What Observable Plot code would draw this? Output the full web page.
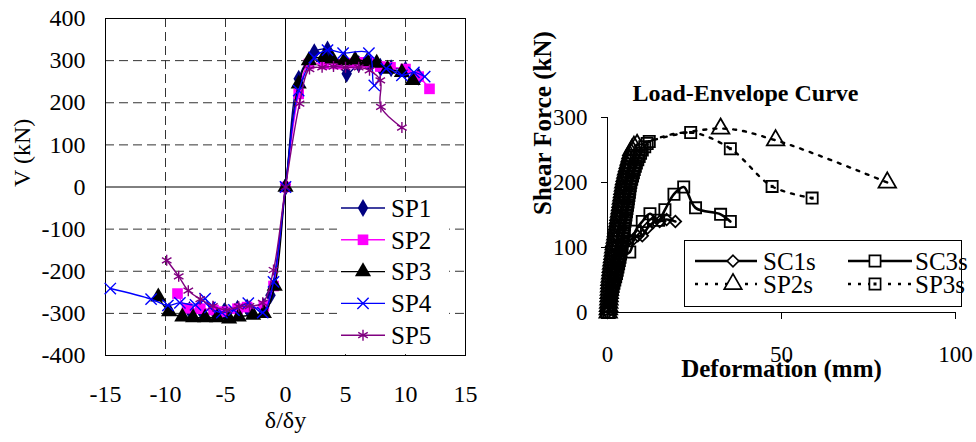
<!DOCTYPE html>
<html><head><meta charset="utf-8">
<script src="https://cdn.jsdelivr.net/npm/d3@7"></script>
<script src="https://cdn.jsdelivr.net/npm/@observablehq/plot@0.6"></script>
<style>
body{margin:0;background:#fff;}
#wrap{position:relative;width:976px;height:442px;overflow:hidden;background:#fff;font-family:"Liberation Serif";}
#wrap > svg{position:absolute;top:0;}
</style></head><body><div id="wrap"></div>
<script>
// ---------- Left chart data: V (kN) vs δ/δy ----------
const spNames = ["SP1","SP2","SP3","SP4","SP5"];
const spColors = ["#000080","#ff00ff","#000000","#0000ff","#800080"];
const spSymbols = ["diamond","square","triangle","times","asterisk"];
const sp1 = [[-8,-292],[-7.1,-290],[-6,-292],[-5.1,-295],[-4,-289],[-3.2,-286],[-1.8,-284],[-1.25,-257],[0,0],[1.1,257],[2.4,320],[3.5,326],[5.1,269],[6.1,292],[7,292],[7.9,285],[8.8,282],[10,278],[11.1,262]];
const sp2 = [[-9,-253],[-8.2,-288],[-7.1,-289],[-6,-292],[-5.1,-296],[-4,-289],[-3.2,-285],[-1.8,-283],[-1.0,-235],[0,0],[1.1,221],[1.95,292],[3.2,292],[4.3,292],[5.4,294],[6.2,296],[6.95,296],[7.9,286],[8.75,284],[10,280],[11.1,262],[12,233]];
const sp3 = [[-10.6,-261],[-9.7,-296],[-8.6,-308],[-7.7,-310],[-6.7,-310],[-5.7,-310],[-4.7,-313],[-3.9,-308],[-2.7,-304],[-1.8,-300],[-0.9,-235],[0,0],[1.1,245],[1.95,300],[3.2,308],[3.9,304],[4.9,300],[5.8,302],[6.8,298],[7.6,294],[8.5,280],[9.7,272],[10.6,253]];
const sp4 = [[-14.6,-241],[-11.2,-266],[-9.8,-281],[-8.8,-275],[-7.5,-280],[-6.7,-265],[-6.3,-286],[-5.3,-298],[-4.3,-292],[-3.1,-276],[-1.9,-298],[-1.0,-225],[0,0],[1.1,229],[2.4,307],[3.5,325],[4.8,318],[6.95,318],[7.4,241],[8.4,281],[9.7,265],[10.7,272],[11.6,262]];
const sp5 = [[-9.9,-174],[-8.9,-212],[-8.1,-246],[-7.1,-266],[-6.05,-283],[-4.9,-292],[-3.9,-284],[-3.0,-283],[-1.9,-275],[-1.0,-197],[0,0],[1.17,198],[2.0,280],[3.05,284],[4.0,286],[5.0,284],[6.1,284],[7.0,277],[7.9,253],[7.95,190],[9.7,141]];
const spData = [sp1, sp2, sp3, sp4, sp5];
const leftXTicks = [-15,-10,-5,0,5,10,15];
const leftYTicks = [-400,-300,-200,-100,0,100,200,300,400];

// ---------- Right chart data: Shear Force (kN) vs Deformation (mm) ----------
const envNames = ["SC1s","SC3s","SP2s","SP3s"];
const sc1s = [[0,0],[0.6,18],[1.2,36],[1.8,52],[2.4,66],[3,80],[3.6,92],[4.2,102],[5,108],[6.2,112],[7.5,113],[8.7,118],[10,118],[11.5,130],[13,138],[15,140],[17,143],[19.5,140]];
const sc3s = [[0,0],[0.6,18],[1.1,34],[1.6,48],[2.1,60],[2.6,70],[3.0,78],[3.4,86],[6.4,93],[8,125],[10,140],[12.2,152],[14.7,142],[16.5,158],[19.1,182],[21.9,193],[25.3,161],[32.5,151],[35.3,140]];
const sp2s = [[0.2,0],[0.25,5],[0.3,10],[0.35,15],[0.4,20],[0.45,25],[0.5,30],[0.55,35],[0.6,40],[0.65,45],[0.7,50],[0.8,55],[0.9,60],[1.0,65],[1.1,70],[1.2,75],[1.3,80],[1.45,85],[1.6,90],[1.7,95],[1.8,100],[1.95,105],[2.1,110],[2.25,115],[2.4,120],[2.55,125],[2.7,130],[2.85,135],[3.0,140],[3.15,145],[3.3,150],[3.45,155],[3.6,160],[3.75,165],[3.9,170],[4.0,175],[4.15,180],[4.3,185],[4.45,190],[4.6,195],[4.7,200],[4.9,205],[5.1,210],[5.3,215],[5.5,220],[5.75,225],[6.0,230],[6.25,235],[6.5,240],[6.75,245],[7.0,250],[7.6,255],[8.5,258],[32.5,283],[48.3,265],[80.4,200]];
const sp3s = [[0.5,0],[0.6,5],[0.7,10],[0.8,15],[0.9,20],[1.05,25],[1.2,30],[1.4,35],[1.6,40],[1.85,45],[2.1,50],[2.35,55],[2.6,60],[2.8,65],[3.0,70],[3.2,75],[3.4,80],[3.6,85],[3.75,90],[3.9,95],[4.1,100],[4.2,105],[4.3,110],[4.4,115],[4.55,120],[4.65,125],[4.75,130],[4.9,135],[5.0,140],[5.15,145],[5.3,150],[5.45,155],[5.6,160],[5.75,165],[5.9,170],[6.0,175],[6.15,180],[6.3,185],[6.4,190],[6.55,195],[6.7,200],[6.95,205],[7.2,210],[7.45,215],[7.7,220],[8.0,225],[8.3,230],[8.7,235],[9.1,240],[9.5,245],[10.0,250],[10.7,255],[11.4,260],[12,263],[23.9,277],[35.3,252],[47.3,194],[58.8,176]];
const rightXTicks = [0,50,100];
const rightYTicks = [0,100,200,300];

const FONT = "Liberation Serif";
const X = d => d[0], Y = d => d[1];

// ---------- Left chart ----------
const dotOpts = (i) => {
  const s = spSymbols[i];
  const strokeOnly = (s === "times" || s === "asterisk");
  return strokeOnly
    ? {x: X, y: Y, symbol: s, r: 5.2, fill: "none", stroke: spColors[i], strokeWidth: 1.4}
    : {x: X, y: Y, symbol: s, r: s === "diamond" ? 5.5 : 6, fill: spColors[i], stroke: "none"};
};
const leftMarks = [
  Plot.ruleX(leftXTicks.filter(d => d !== 0 && Math.abs(d) < 15), {stroke: "#333", strokeDasharray: "9,5"}),
  Plot.ruleY(leftYTicks.filter(d => d !== 0 && Math.abs(d) < 400), {stroke: "#333", strokeDasharray: "9,5"}),
  Plot.ruleX([0], {stroke: "#000"}),
  Plot.ruleY([0], {stroke: "#000"}),
  Plot.frame({stroke: "#000"})
];
spData.forEach((data, i) => {
  leftMarks.push(Plot.line(data, {x: X, y: Y, stroke: spColors[i], strokeWidth: 1.4, curve: "catmull-rom"}));
  leftMarks.push(Plot.dot(data, dotOpts(i)));
});
leftMarks.push(Plot.text(["δ/δy"], {frameAnchor: "bottom", dy: 72, fontSize: 24, fontFamily: FONT}));
leftMarks.push(Plot.text(["V (kN)"], {frameAnchor: "left", dx: -83, rotate: -90, fontSize: 24, fontFamily: FONT}));

const left = Plot.plot({
  width: 480, height: 442,
  marginLeft: 105, marginRight: 15, marginTop: 18, marginBottom: 87,
  style: {fontFamily: FONT, fontSize: "24px", color: "#000", background: "transparent", overflow: "visible"},
  x: {domain: [-15, 15], ticks: leftXTicks, tickFormat: d => String(d), tickSize: 0, tickPadding: 29, label: null},
  y: {domain: [-400, 400], ticks: leftYTicks, tickFormat: d => String(d), tickSize: 0, tickPadding: 20, label: null},
  marks: leftMarks
});
left.style.left = "0px";

// ---------- Right chart ----------
const solid = {stroke: "#000", strokeWidth: 2.6, curve: "catmull-rom"};
const dotted = {stroke: "#000", strokeWidth: 2.4, strokeDasharray: "3,7", curve: "catmull-rom"};
const openMark = {fill: "none", stroke: "#000", strokeWidth: 1.8};
const rightMarks = [
  Plot.ruleX([0], {stroke: "#000"}),
  Plot.ruleY([0], {stroke: "#000"}),
  Plot.line(sp2s, {x: X, y: Y, ...dotted}),
  Plot.dot(sp2s, {x: X, y: Y, symbol: "triangle", r: 6.5, ...openMark}),
  Plot.line(sp3s, {x: X, y: Y, ...dotted}),
  Plot.dot(sp3s, {x: X, y: Y, symbol: "square", r: 6.3, ...openMark}),
  Plot.dot(sp3s, {x: X, y: Y, symbol: "square", r: 1.7, fill: "#000"}),
  Plot.line(sc1s, {x: X, y: Y, ...solid}),
  Plot.dot(sc1s, {x: X, y: Y, symbol: "diamond2", r: 5.2, ...openMark}),
  Plot.line(sc3s, {x: X, y: Y, ...solid}),
  Plot.dot(sc3s, {x: X, y: Y, symbol: "square", r: 6.3, ...openMark}),
  Plot.text(["Load-Envelope Curve"], {frameAnchor: "top", dx: -36, dy: -34, fontSize: 24, fontWeight: "bold", fontFamily: FONT}),
  Plot.text(["Deformation (mm)"], {frameAnchor: "bottom", dy: 64, fontSize: 25, fontWeight: "bold", fontFamily: FONT}),
  Plot.text(["Shear Force (kN)"], {frameAnchor: "left", dx: -65, rotate: -90, fontSize: 25, fontWeight: "bold", fontFamily: FONT})
];
const right = Plot.plot({
  width: 496, height: 442,
  marginLeft: 127, marginRight: 21, marginTop: 117, marginBottom: 130,
  style: {fontFamily: FONT, fontSize: "23px", color: "#000", background: "transparent", overflow: "visible"},
  x: {domain: [0, 100], ticks: rightXTicks, tickSize: 7, tickPadding: 26, label: null},
  y: {domain: [0, 300], ticks: rightYTicks, tickSize: 6, tickPadding: 14, label: null},
  marks: rightMarks
});
right.style.left = "480px";

const wrap = document.getElementById("wrap");
wrap.appendChild(left);
wrap.appendChild(right);

// ---------- Legends (overlay) ----------
const symMap = {diamond: d3.symbolDiamond, square: d3.symbolSquare, triangle: d3.symbolTriangle,
  times: d3.symbolTimes, asterisk: d3.symbolAsterisk, diamond2: d3.symbolDiamond2};
const ov = d3.select(wrap).append("svg")
  .attr("width", 976).attr("height", 442)
  .style("position", "absolute").style("left", "0px").style("top", "0px")
  .style("pointer-events", "none");

// left legend
const lg = ov.append("g");
lg.append("rect").attr("x", 337).attr("y", 192).attr("width", 112).attr("height", 160).attr("fill", "#fff");
spNames.forEach((name, i) => {
  const y = 208 + i * 31.8;
  lg.append("line").attr("x1", 341).attr("x2", 385).attr("y1", y).attr("y2", y)
    .attr("stroke", spColors[i]).attr("stroke-width", 1.4);
  const o = dotOpts(i);
  lg.append("path").attr("transform", `translate(363,${y})`)
    .attr("d", d3.symbol(symMap[spSymbols[i]], Math.PI * o.r * o.r)())
    .attr("fill", o.fill).attr("stroke", o.stroke).attr("stroke-width", o.strokeWidth || 0);
  lg.append("text").attr("x", 391).attr("y", y).attr("dy", "0.35em")
    .attr("font-family", FONT).attr("font-size", 25).text(name);
});

// right legend
const rg = ov.append("g");
rg.append("rect").attr("x", 684.5).attr("y", 240.5).attr("width", 277).attr("height", 66)
  .attr("fill", "#fff").attr("stroke", "#000").attr("stroke-width", 1);
const envStyle = [
  {line: solid, sym: "diamond2", r: 5.2, inner: false},
  {line: solid, sym: "square", r: 6.3, inner: false},
  {line: dotted, sym: "triangle", r: 6.5, inner: false},
  {line: dotted, sym: "square", r: 6.3, inner: true}
];
envNames.forEach((name, i) => {
  const col = i % 2, row = Math.floor(i / 2);
  const y = row === 0 ? 261 : 284;
  const x1 = col === 0 ? 695 : 848, x2 = col === 0 ? 757 : 912, mx = col === 0 ? 733 : 875;
  const tx = col === 0 ? 763 : 915;
  const st = envStyle[i];
  rg.append("line").attr("x1", x1).attr("x2", x2).attr("y1", y).attr("y2", y)
    .attr("stroke", "#000").attr("stroke-width", st.line.strokeWidth)
    .attr("stroke-dasharray", st.line.strokeDasharray || null);
  rg.append("path").attr("transform", `translate(${mx},${y})`)
    .attr("d", d3.symbol(symMap[st.sym], Math.PI * st.r * st.r)())
    .attr("fill", "#fff").attr("stroke", "#000").attr("stroke-width", 1.7);
  if (st.inner) rg.append("path").attr("transform", `translate(${mx},${y})`)
    .attr("d", d3.symbol(d3.symbolSquare, Math.PI * 1.7 * 1.7)()).attr("fill", "#000");
  rg.append("text").attr("x", tx).attr("y", y).attr("dy", "0.35em")
    .attr("font-family", FONT).attr("font-size", 25).text(name);
});
</script></body></html>
